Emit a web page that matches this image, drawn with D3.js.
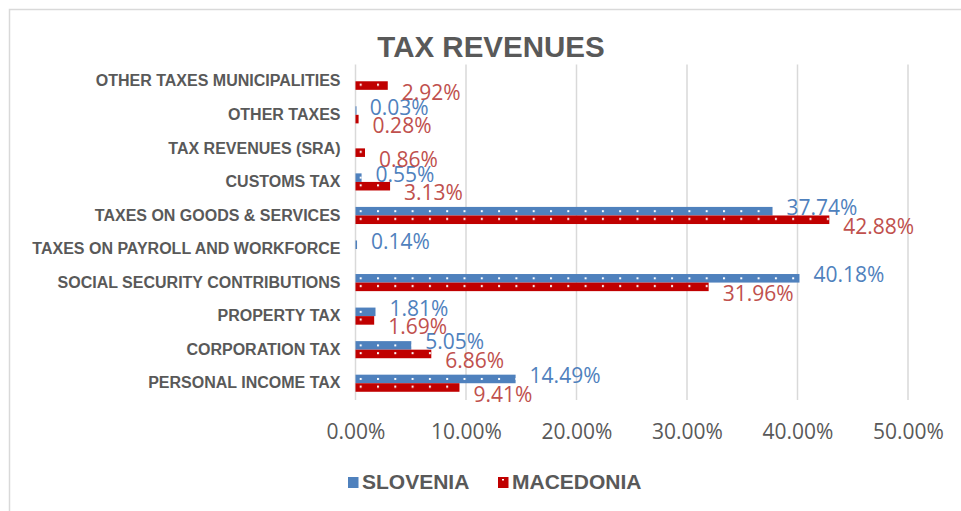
<!DOCTYPE html>
<html>
<head>
<meta charset="utf-8">
<script src="https://cdn.jsdelivr.net/npm/d3@7"></script>
<style>
  html, body { margin: 0; padding: 0; background: #fff; }
  svg { display: block; }
</style>
</head>
<body>
<svg id="chart" width="961" height="511"></svg>
<script>
// categories, top to bottom as drawn
var categories = ['OTHER TAXES MUNICIPALITIES', 'OTHER TAXES', 'TAX REVENUES (SRA)', 'CUSTOMS TAX',
    'TAXES ON GOODS & SERVICES', 'TAXES ON PAYROLL AND WORKFORCE', 'SOCIAL SECURITY CONTRIBUTIONS',
    'PROPERTY TAX', 'CORPORATION TAX', 'PERSONAL INCOME TAX'];
var seriesNames = ['SLOVENIA', 'MACEDONIA'];
// percent values, null = no bar
var slovenia = [null, 0.03, null, 0.55, 37.74, 0.14, 40.18, 1.81, 5.05, 14.49];
var macedonia = [2.92, 0.28, 0.86, 3.13, 42.88, null, 31.96, 1.69, 6.86, 9.41];
var ticks = [0, 10, 20, 30, 40, 50];

var barCols = ['#4f81bd', '#c00000'];
var labelCols = ['#4f81bd', '#c0504d'];
var gray = '#595959';
var grid = '#d9d9d9';

function drawChart() {
    var svg = d3.select('#chart');
    svg.selectAll('*').remove();

    // chart frame
    svg.append('path')
        .attr('d', 'M9.5,520 V9.5 H970')
        .attr('fill', 'none')
        .attr('stroke', grid)
        .attr('stroke-width', 1.5);

    var x = d3.scaleLinear().domain([0, 50]).range([355.5, 908]);
    var y = d3.scaleBand().domain(categories).range([64.5, 400])
        .paddingInner(0.49).paddingOuter(0.245);
    var y1 = d3.scaleBand().domain(seriesNames).range([0, y.bandwidth()]);
    var bh = y1.bandwidth();

    // dotted fills
    var defs = svg.append('defs');
    seriesNames.forEach(function (s, i) {
        var cy = y(categories[0]) + y1(s) + bh / 2;
        var p = defs.append('pattern')
            .attr('id', 'pat' + i)
            .attr('patternUnits', 'userSpaceOnUse')
            .attr('x', x(0) + 4.2)
            .attr('y', cy - y.step() / 2)
            .attr('width', 17.3)
            .attr('height', y.step());
        p.append('rect').attr('width', 17.3).attr('height', y.step()).attr('fill', barCols[i]);
        p.append('rect').attr('x', 0).attr('y', y.step() / 2 - (i == 0 ? 1 : 1.8))
            .attr('width', 2).attr('height', 2).attr('fill', '#fff');
    });

    // title
    svg.append('text')
        .text('TAX REVENUES')
        .attr('x', 491)
        .attr('y', 57)
        .attr('text-anchor', 'middle')
        .attr('font-family', 'Liberation Sans, Arial, sans-serif')
        .attr('font-weight', 'bold')
        .attr('font-size', 29.5)
        .attr('fill', gray);

    // gridlines
    svg.append('g').selectAll('line')
        .data(ticks)
        .enter().append('line')
        .attr('x1', function (d) { return x(d); })
        .attr('x2', function (d) { return x(d); })
        .attr('y1', 64.5)
        .attr('y2', 400)
        .attr('stroke', grid)
        .attr('stroke-width', 1.5);

    // x tick labels
    var xAxis = d3.axisBottom(x).tickValues(ticks)
        .tickFormat(function (d) { return d.toFixed(2) + '%'; })
        .tickSize(0).tickPadding(0);
    var gx = svg.append('g').attr('transform', 'translate(0,424)').call(xAxis);
    gx.select('.domain').remove();
    gx.selectAll('text')
        .attr('font-family', 'Open Sans, sans-serif')
        .attr('font-size', 21)
        .attr('fill', gray);

    // category labels
    var yAxis = d3.axisLeft(y).tickSize(0).tickPadding(15);
    var gy = svg.append('g').attr('transform', 'translate(355.5,0)').call(yAxis);
    gy.select('.domain').remove();
    gy.selectAll('text')
        .attr('font-family', 'Liberation Sans, Arial, sans-serif')
        .attr('font-weight', 'bold')
        .attr('font-size', 16)
        .attr('fill', gray);

    // bars + labels
    var series = [slovenia, macedonia];
    var labelShift = [-3.5, 6.5];
    series.forEach(function (vals, i) {
        var rows = categories.map(function (c, j) { return {cat: c, v: vals[j]}; })
            .filter(function (d) { return d.v != null; });
        svg.append('g').selectAll('rect')
            .data(rows)
            .enter().append('rect')
            .attr('x', x(0))
            .attr('y', function (d) { return y(d.cat) + y1(seriesNames[i]); })
            .attr('width', function (d) { return Math.max(x(d.v) - x(0), 1); })
            .attr('height', bh)
            .attr('fill', 'url(#pat' + i + ')');
        svg.append('g').selectAll('text')
            .data(rows)
            .enter().append('text')
            .text(function (d) { return d.v.toFixed(2) + '%'; })
            .attr('x', function (d) { return x(d.v) + 14; })
            .attr('y', function (d) { return y(d.cat) + y1(seriesNames[i]) + bh / 2 + labelShift[i]; })
            .attr('dy', '0.36em')
            .attr('font-family', 'Open Sans, sans-serif')
            .attr('font-size', 21)
            .attr('fill', labelCols[i]);
    });

    // legend
    var legX = [348, 498];
    seriesNames.forEach(function (s, i) {
        svg.append('rect')
            .attr('x', legX[i])
            .attr('y', 477)
            .attr('width', 10.5)
            .attr('height', 11)
            .attr('fill', barCols[i]);
        if (i == 1) {
            svg.append('rect').attr('x', legX[i] + 4).attr('y', 479)
                .attr('width', 2).attr('height', 1.5).attr('fill', '#fff');
        }
        svg.append('text')
            .text(s)
            .attr('x', legX[i] + 14)
            .attr('y', 489)
            .attr('font-family', 'Liberation Sans, Arial, sans-serif')
            .attr('font-weight', 'bold')
            .attr('font-size', 21)
            .attr('fill', gray);
    });
}

window.onload = drawChart;
</script>
</body>
</html>
